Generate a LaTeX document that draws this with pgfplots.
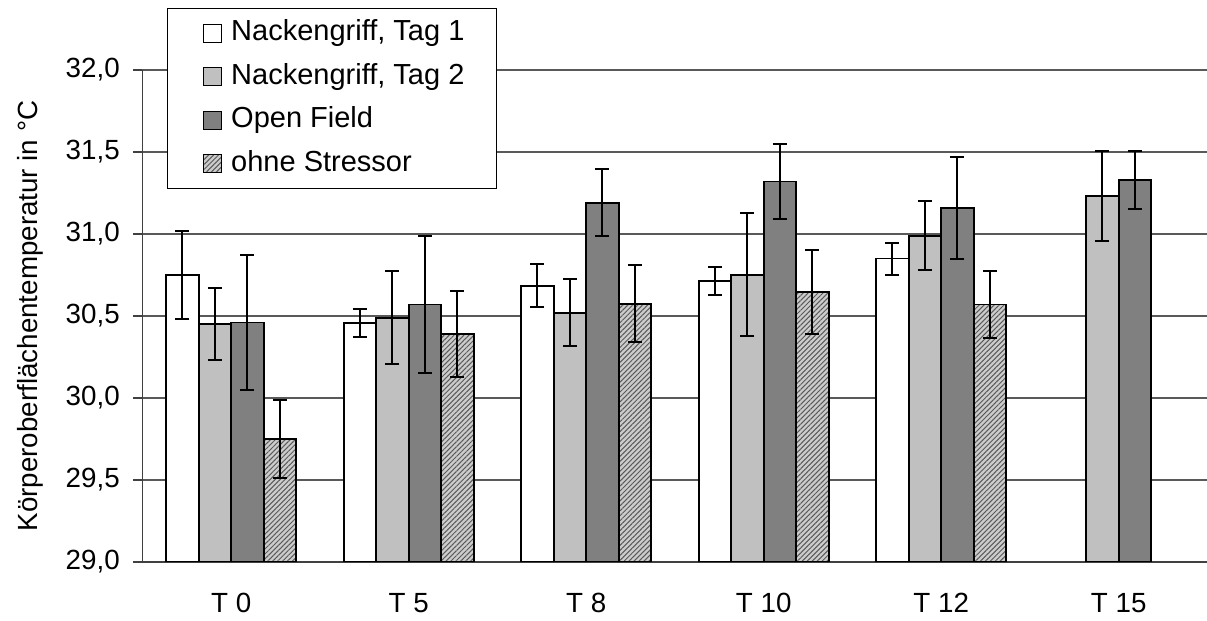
\documentclass[border=0pt]{standalone}
\usepackage{pgfplots}
\pgfplotsset{compat=1.18}
\usepackage{fontspec}
\setmainfont{Liberation Sans}
\usetikzlibrary{patterns.meta}
\definecolor{cLight}{HTML}{C0C0C0}
\definecolor{cDark}{HTML}{808080}
\begin{document}
\fontsize{11.1}{13.3}\selectfont
\begin{tikzpicture}
\begin{axis}[
  scale only axis,
  width=426pt, height=196.8pt,
  xmin=-0.5, xmax=5.5,
  ymin=29, ymax=32,
  ybar=0pt, bar width=13pt,
  axis lines=left,
  axis line style={-, black!75, line width=0.5pt},
  xtick={0,1,2,3,4,5},
  xticklabels={T 0, T 5, T 8, T 10, T 12, T 15},
  major x tick style={draw=none},
  xticklabel style={yshift=-5pt},
  ytick={29,29.5,30,30.5,31,31.5,32},
  tick align=outside,
  major tick length=3.6pt,
  major y tick style={black!75, line width=0.5pt},
  yticklabel style={xshift=-1.6pt, /pgf/number format/fixed, /pgf/number format/fixed zerofill, /pgf/number format/precision=1, /pgf/number format/use comma, /pgf/number format/assume math mode=true},
  ymajorgrids,
  grid style={black!65, line width=0.45pt},
  ylabel={Körperoberflächentemperatur in °C},
  every axis y label/.style={at={(axis description cs:-0.1056,0.5)}, rotate=90, anchor=center},
  every axis plot/.append style={draw=black, line width=0.7pt,
    legend image code/.code={\path (-3pt,0pt); \draw[##1, line width=0.5pt] (0pt,-3.6pt) rectangle (7.2pt,3.6pt); \path (8.8pt,0pt);}},
  error bars/y dir=both,
  error bars/y explicit,
  error bars/error bar style={black, line width=0.8pt},
  error bars/error mark options={black, rotate=90, mark size=2.8pt, line width=0.8pt},
  legend style={at={(rel axis cs:0.023,1.126)}, anchor=north west, draw=black, line width=0.4pt,
    font=\fontsize{11.6}{13.9}\selectfont,
    inner xsep=11pt, inner ysep=2.5pt, row sep=2.6pt,
    nodes={inner xsep=2pt, inner ysep=2pt, text height=8.3pt, text depth=2.5pt}},
  legend cell align=left,
]
\addplot[fill=white] coordinates {
  (0,30.75) +- (0,0.27)
  (1,30.455) +- (0,0.085)
  (2,30.685) +- (0,0.13)
  (3,30.715) +- (0,0.085)
  (4,30.85) +- (0,0.097)
};
\addlegendentry{Nackengriff, Tag 1}
\addplot[fill=cLight] coordinates {
  (0,30.45) +- (0,0.22)
  (1,30.49) +- (0,0.285)
  (2,30.52) +- (0,0.205)
  (3,30.75) +- (0,0.375)
  (4,30.99) +- (0,0.21)
  (5,31.23) +- (0,0.274)
};
\addlegendentry{Nackengriff, Tag 2}
\addplot[fill=cDark] coordinates {
  (0,30.46) +- (0,0.41)
  (1,30.57) +- (0,0.42)
  (2,31.19) +- (0,0.205)
  (3,31.32) +- (0,0.227)
  (4,31.16) +- (0,0.31)
  (5,31.33) +- (0,0.177)
};
\addlegendentry{Open Field}
\addplot[fill=gray!40, postaction={pattern={Lines[angle=45,distance=1.4pt,line width=0.4pt]}, pattern color=gray!70!black}] coordinates {
  (0,29.75) +- (0,0.235)
  (1,30.39) +- (0,0.26)
  (2,30.575) +- (0,0.233)
  (3,30.645) +- (0,0.255)
  (4,30.57) +- (0,0.205)
};
\addlegendentry{ohne Stressor}
\coordinate (sw) at (rel axis cs:0,0);
\end{axis}
\pgfresetboundingbox
\path (sw) ++(-57pt,-23.6pt) rectangle ++(482.8pt,248.4pt);
\end{tikzpicture}
\end{document}
